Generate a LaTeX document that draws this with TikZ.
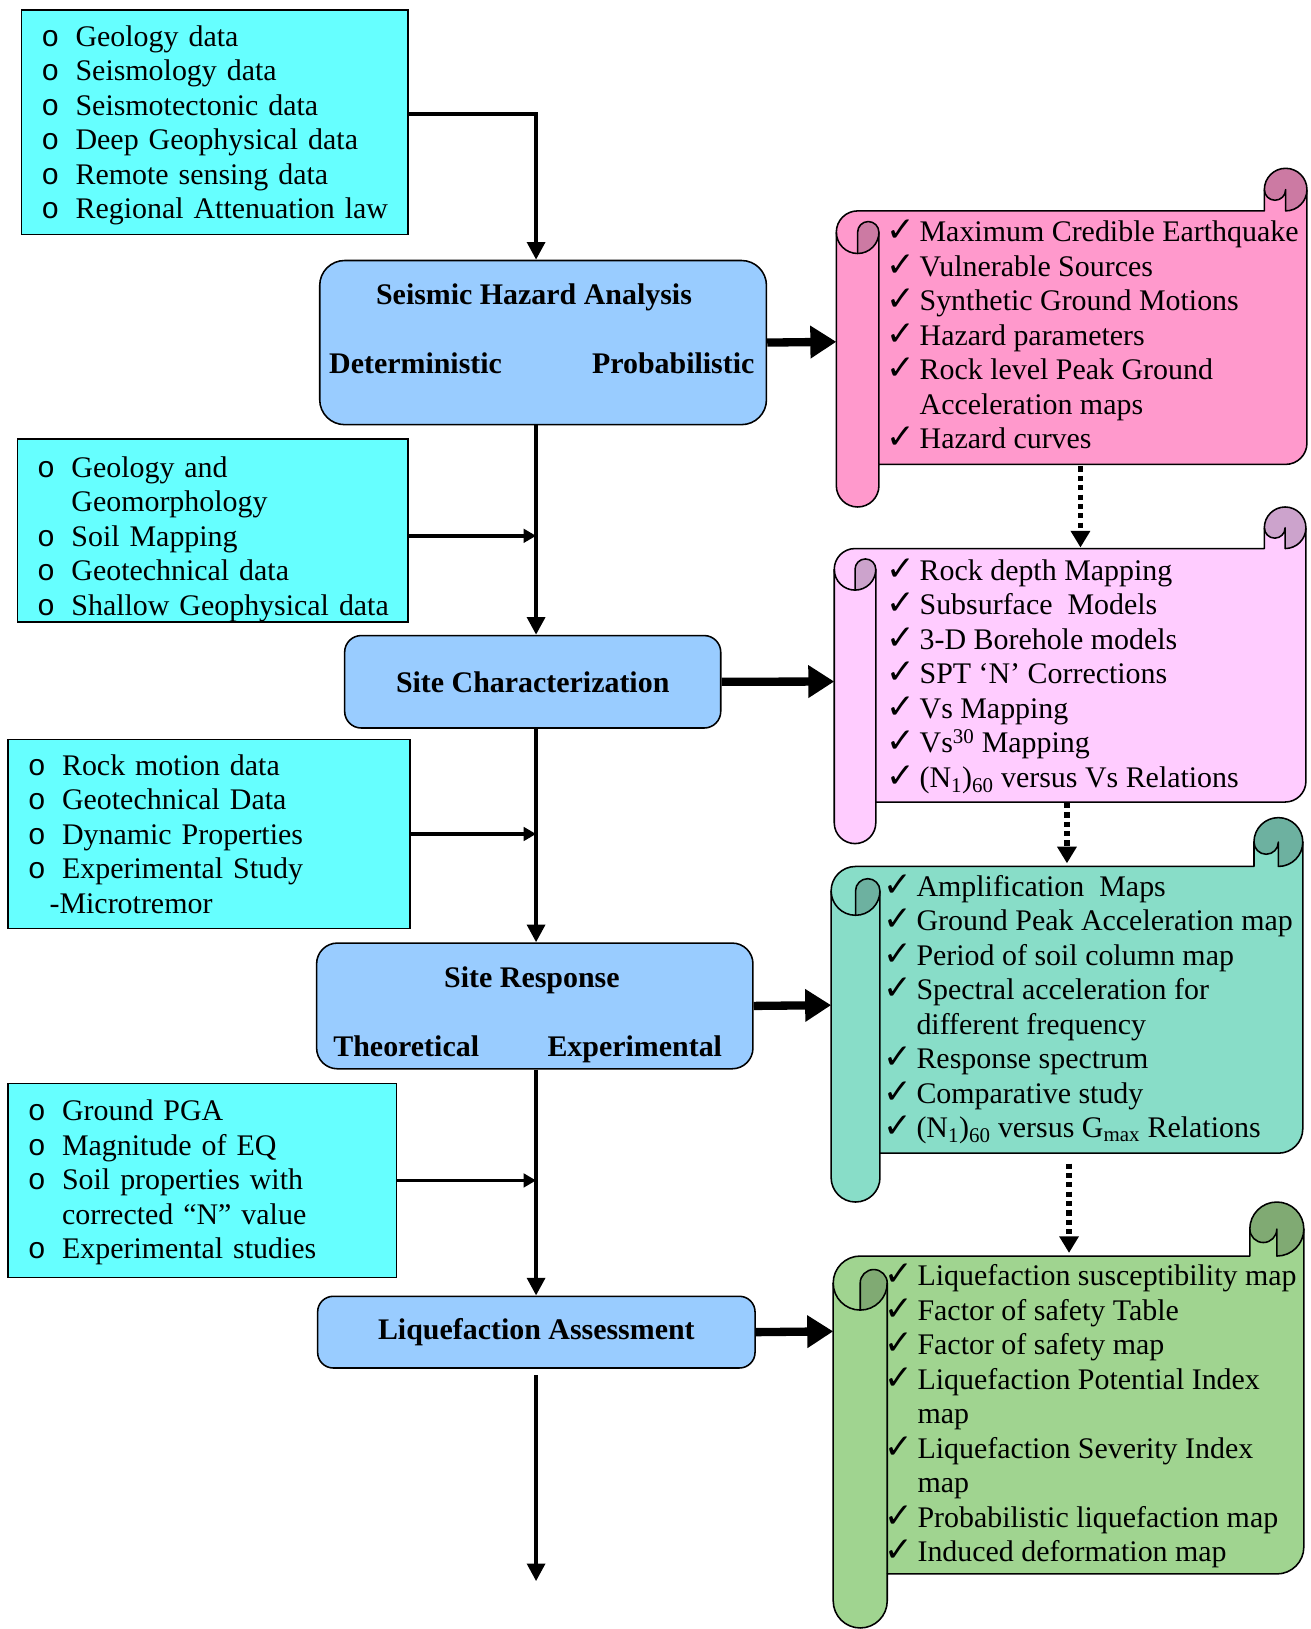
\documentclass[tikz,border=0pt]{standalone}
\usepackage{fontspec}
\setmainfont{Liberation Serif}
\newfontfamily\checkfamily{DejaVu Sans}
\newfontfamily\bulletfamily{Liberation Mono}
\usetikzlibrary{arrows.meta,calc,positioning}

\definecolor{inputcyan}{HTML}{66FFFF}
\definecolor{stepblue}{HTML}{99CCFF}
\definecolor{hazpink}{HTML}{FF99CC}
\definecolor{hazpinkdark}{HTML}{CC7AA3}
\definecolor{sitepink}{HTML}{FFCCFF}
\definecolor{sitepinkdark}{HTML}{CCA3CC}
\definecolor{respteal}{HTML}{88DDC8}
\definecolor{resptealdark}{HTML}{6DB1A0}
\definecolor{liqgreen}{HTML}{A0D490}
\definecolor{liqgreendark}{HTML}{80AA73}

\newcommand{\bodyfont}{\fontsize{28.8}{33.2}\selectfont}
\newcommand{\inb}[1]{\mbox{\makebox[33pt][l]{\bulletfamily o}#1}}
\newcommand{\inskip}[1]{\mbox{\hspace*{33pt}#1}}
\newcommand{\ck}{\makebox[32pt][l]{\strut{\checkfamily\fontsize{33}{33.2}\selectfont ✓}}}
\newcommand{\ckskip}{\makebox[32pt][l]{\strut}}

\tikzset{
  inbox/.style={draw, line width=1.5pt, fill=inputcyan, align=left, anchor=north west,
    inner xsep=19pt, inner ysep=0pt, font=\bodyfont},
  stepbox/.style={draw, line width=1.5pt, fill=stepblue, anchor=north west, inner sep=0pt,
    font=\bfseries\bodyfont},
  steptext/.style={anchor=base, inner sep=0pt, font=\bfseries\bodyfont},
  scrolltext/.style={anchor=north west, inner sep=0pt, align=left, font=\bodyfont},
  scrollline/.style={line width=1.5pt, line join=round},
  feed/.style={line width=4pt, -{Triangle[length=17pt,width=17pt]}},
  inarrow/.style={line width=3.5pt, -{Triangle[length=12pt,width=13pt]}},
  flow/.style={line width=8pt, -{Triangle[length=25pt,width=30pt]}},
  dotflow/.style={line width=5pt, dash pattern=on 5pt off 4pt, -{Triangle[length=16pt,width=18pt]}}
}

% scroll: left, top, right, bottom, curl radius, fill, curl colour
\newcommand{\scrollbody}{(\sxa,\syh) arc[start angle=180, end angle=90, radius=\scr] -- (\sxd,\syt) -- (\sxd,\syo)
  arc[start angle=180, end angle=0, radius=\scr] -- (\sxf,\sybc) arc[start angle=0, end angle=-90, radius=\scr]
  -- (\sxc,\sybb) -- (\sxc,\syba) arc[start angle=0, end angle=-180, radius=\scr] -- cycle}
\newcommand{\drawscroll}[7]{%
  \pgfmathsetmacro\sxa{#1}\pgfmathsetmacro\sxb{#1+#5}\pgfmathsetmacro\sxc{#1+2*#5}
  \pgfmathsetmacro\sxd{#3-2*#5}\pgfmathsetmacro\sxe{#3-#5}\pgfmathsetmacro\sxf{#3}
  \pgfmathsetmacro\syo{-#2-#5}\pgfmathsetmacro\syt{-#2-2*#5}\pgfmathsetmacro\syh{-#2-3*#5}\pgfmathsetmacro\syf{-#2-4*#5}
  \pgfmathsetmacro\syba{-#4+#5}\pgfmathsetmacro\sybb{-#4+2*#5}\pgfmathsetmacro\sybc{-#4+3*#5}
  \pgfmathsetmacro\scr{#5}\pgfmathsetmacro\scrh{#5/2}
  \fill[#6] \scrollbody;
  \fill[#7] (\sxe,\syt) -- (\sxe,\syo) arc[start angle=0, end angle=-180, radius=\scrh]
    arc[start angle=180, end angle=-90, radius=\scr] -- cycle;
  \fill[#7] (\sxb,\syf) -- (\sxb,\syh) arc[start angle=180, end angle=0, radius=\scrh]
    arc[start angle=0, end angle=-90, radius=\scr] -- cycle;
  \draw[scrollline] \scrollbody;
  \draw[scrollline] (\sxf,\syo) arc[start angle=0, end angle=-90, radius=\scr] -- (\sxe,\syo)
    arc[start angle=0, end angle=-180, radius=\scrh];
  \draw[scrollline] (\sxa,\syh) arc[start angle=180, end angle=360, radius=\scr];
  \draw[scrollline] (\sxb,\syf) -- (\sxb,\syh) arc[start angle=180, end angle=0, radius=\scrh] -- (\sxc,\sybb);
}

\begin{document}
\begin{tikzpicture}[x=1pt,y=1pt]
\useasboundingbox (0,0) rectangle (1261,-1568);

% input boxes
\node[inbox, text width=334pt, minimum height=216pt] (geo) at (20,-9)
  {\rule{0pt}{26pt}\inb{Geology data}\\ \inb{Seismology data}\\ \inb{Seismotectonic data}\\
   \inb{Deep Geophysical data}\\ \inb{Remote sensing data}\\ \inb{Regional Attenuation law}};
\node[inbox, text width=338pt, minimum height=176pt] (soil) at (16,-422)
  {\rule{0pt}{36pt}\inb{Geology and}\\ \inskip{Geomorphology}\\ \inb{Soil Mapping}\\ \inb{Geotechnical data}\\
   \inb{Shallow Geophysical data}};
\node[inbox, text width=349pt, minimum height=182pt] (rock) at (7,-711)
  {\inb{Rock motion data}\\ \inb{Geotechnical Data}\\ \inb{Dynamic Properties}\\
   \inb{Experimental Study}\\ \mbox{\hspace*{21pt}-Microtremor}};
\node[inbox, text width=336pt, minimum height=187pt] (pga) at (7,-1042)
  {\rule{0pt}{24pt}\inb{Ground PGA}\\ \inb{Magnitude of EQ}\\ \inb{Soil properties with}\\
   \inskip{corrected “N” value}\\ \inb{Experimental studies}};

% main steps
\node[stepbox, rounded corners=24pt, minimum width=430pt, minimum height=158pt] (sha) at (307,-250) {};
\node[steptext] (shatitle) at (514,-293.5) {Seismic Hazard Analysis};
\node[steptext] (det) at (400,-359.5) {Deterministic};
\node[steptext] (prob) at (648,-359.5) {Probabilistic};
\node[stepbox, rounded corners=16pt, minimum width=362pt, minimum height=89pt] (sc) at (331,-611) {Site Characterization};
\node[stepbox, rounded corners=20pt, minimum width=420pt, minimum height=121pt] (sr) at (304,-907) {};
\node[steptext] (srtitle) at (512,-950.5) {Site Response};
\node[steptext] (theo) at (391,-1016.5) {Theoretical};
\node[steptext] (expe) at (611,-1016.5) {Experimental};
\node[stepbox, rounded corners=15pt, minimum width=421pt, minimum height=69pt] (la) at (305,-1247) {Liquefaction Assessment};

% outputs
\drawscroll{805}{162}{1258}{488}{20.5}{hazpink}{hazpinkdark}
\drawscroll{803}{488}{1257}{812}{20}{sitepink}{sitepinkdark}
\drawscroll{800}{787}{1254}{1157}{23.5}{respteal}{resptealdark}
\drawscroll{802}{1157}{1255}{1567}{26}{liqgreen}{liqgreendark}

\node[scrolltext] (hazlist) at (853,-209.3)
  {\ck Maximum Credible Earthquake\\ \ck Vulnerable Sources\\ \ck Synthetic Ground Motions\\
   \ck Hazard parameters\\ \ck Rock level Peak Ground\\ \ckskip Acceleration maps\\ \ck Hazard curves};
\node[scrolltext] (sitelist) at (853,-535.3)
  {\ck Rock depth Mapping\\ \ck Subsurface\ \ Models\\ \ck 3-D Borehole models\\
   \ck SPT ‘N’ Corrections\\ \ck Vs Mapping\\ \ck Vs\textsuperscript{30} Mapping\\
   \ck (N\textsubscript{1})\textsubscript{60} versus Vs Relations};
\node[scrolltext] (resplist) at (850,-839.3)
  {\ck Amplification\ \ Maps\\ \ck Ground Peak Acceleration map\\ \ck Period of soil column map\\
   \ck Spectral acceleration for\\ \ckskip different frequency\\ \ck Response spectrum\\
   \ck Comparative study\\ \ck (N\textsubscript{1})\textsubscript{60} versus G\textsubscript{max} Relations};
\node[scrolltext] (liqlist) at (851,-1214.3)
  {\ck Liquefaction susceptibility map\\ \ck Factor of safety Table\\ \ck Factor of safety map\\
   \ck Liquefaction Potential Index\\ \ckskip map\\ \ck Liquefaction Severity Index\\ \ckskip map\\
   \ck Probabilistic liquefaction map\\ \ck Induced deformation map};

\coordinate (spine) at (516,0);
\coordinate (hazin) at (805,-329);
\coordinate (sitein) at (803,-656);
\coordinate (respin) at (800,-967.5);
\coordinate (liqin) at (802,-1281.5);
\coordinate (hazbot) at (1040,-449);
\coordinate (sitetop) at (1040,-527);
\coordinate (sitebot) at (1027,-773);
\coordinate (resptop) at (1027,-831);
\coordinate (respbot) at (1029,-1120);
\coordinate (liqtop) at (1029,-1206);
\coordinate (result) at (516,-1522);

% connectors
\draw[feed] ([yshift=8pt]geo.east) -| (spine |- sha.north);
\draw[feed] (spine |- sha.south) -- (spine |- sc.north);
\draw[feed] (spine |- sc.south) -- (spine |- sr.north);
\draw[feed] (spine |- sr.south) -- (spine |- la.north);
\draw[feed] ($(spine |- la.south)+(0,-6)$) -- (result);
\draw[inarrow] ([yshift=-5pt]soil.east) -- ($(soil.east -| spine)+(0,-5)$);
\draw[inarrow] (rock.east) -- (rock.east -| spine);
\draw[inarrow] (pga.east) -- (pga.east -| spine);
\draw[flow] (sha.east) -- (hazin);
\draw[flow] (sc.east) -- (sitein);
\draw[flow] (sr.east) -- (respin);
\draw[flow] (la.east) -- (liqin);
\draw[dotflow] (hazbot) -- (sitetop);
\draw[dotflow] (sitebot) -- (resptop);
\draw[dotflow] (respbot) -- (liqtop);
\end{tikzpicture}
\end{document}
